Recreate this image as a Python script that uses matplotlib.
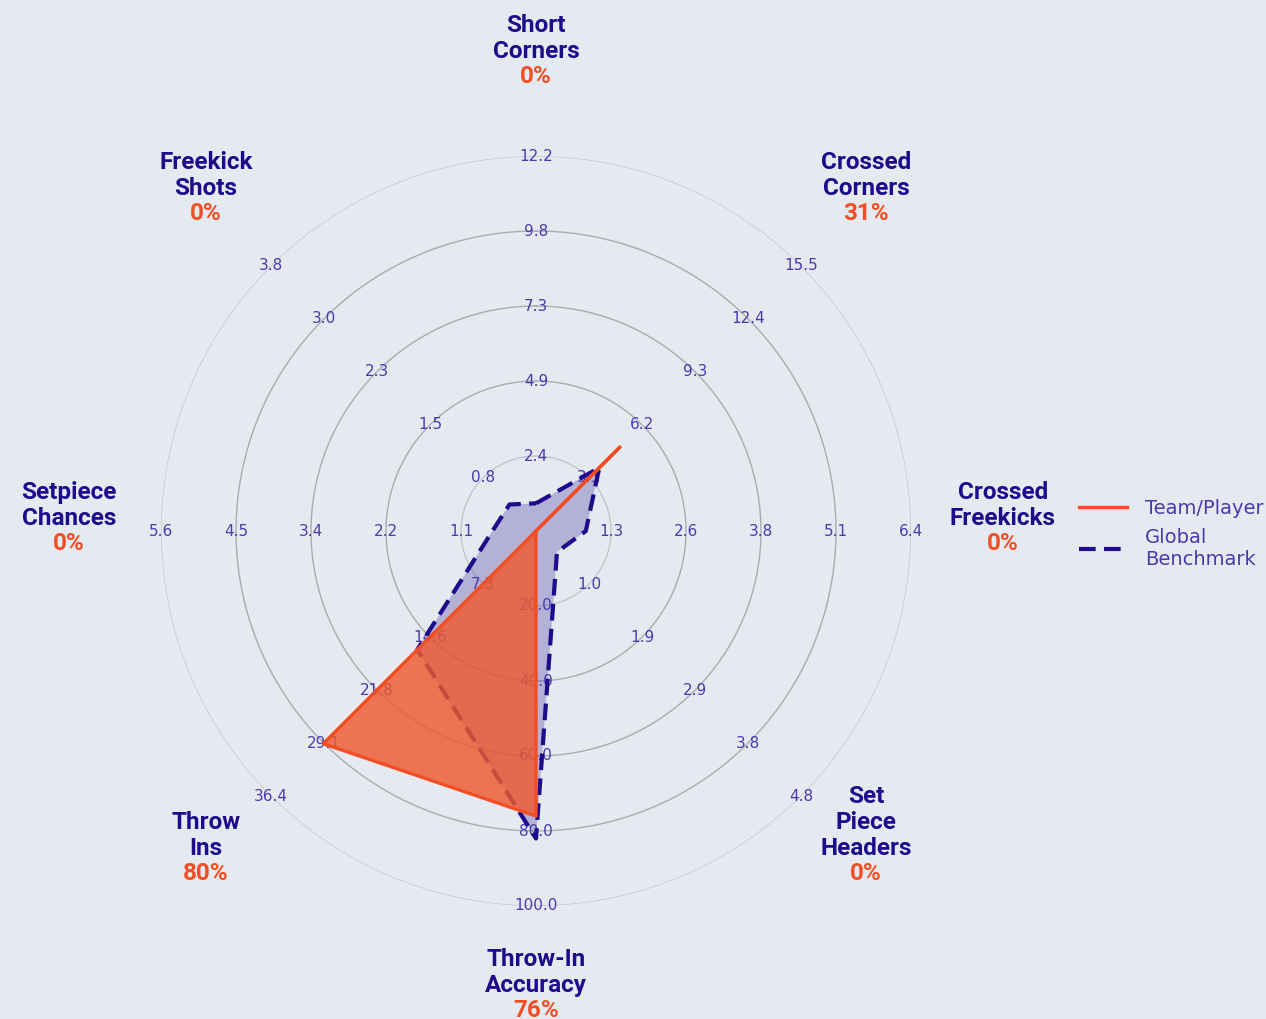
import numpy as np
import matplotlib
matplotlib.use("Agg")
import matplotlib.pyplot as plt

# categories, clockwise from the top
categories = ["Short\nCorners", "Crossed\nCorners", "Crossed\nFreekicks", "Set\nPiece\nHeaders",
              "Throw-In\nAccuracy", "Throw\nIns", "Setpiece\nChances", "Freekick\nShots"]
percentiles = ["0%", "31%", "0%", "0%", "76%", "80%", "0%", "0%"]
range_max = [12.2, 15.5, 6.4, 4.8, 100.0, 36.4, 5.6, 3.8]
team = [0.0, 4.9, 0.0, 0.0, 76.0, 29.2, 0.0, 0.0]
benchmark = [0.9, 3.7, 0.85, 0.38, 82.0, 16.3, 0.65, 0.38]

bg = '#e5e9f0'
navy = '#1f0a8c'
orange = '#f24e25'
tick_col = '#4a3aae'

n = len(categories)
theta = np.deg2rad(np.arange(n) * 45.0)
mx = np.array(range_max)
team_r = np.array(team) / mx
bench_r = np.array(benchmark) / mx

fig = plt.figure(figsize=(12.66, 10.19), dpi=100, facecolor=bg)
ax = fig.add_axes([161 / 1266, 113 / 1019, 750 / 1266, 750 / 1019], projection='polar')
ax.set_theta_offset(np.pi / 2)
ax.set_theta_direction(-1)
ax.set_ylim(0, 1)
ax.patch.set_visible(False)
ax.grid(False)
ax.spines['polar'].set_visible(False)
ax.set_xticks([])
ax.set_yticks([])

# rings
circ = np.linspace(0, 2 * np.pi, 400)
for k in range(1, 6):
    col = '#c4c6cc' if k in (1, 5) else '#a9abb0'
    ax.plot(circ, np.full_like(circ, k / 5), color=col, lw=1.0, zorder=1)

# ring labels per axis
for i in range(n):
    for k in range(1, 6):
        ax.text(theta[i], k / 5, f"{range_max[i] * k / 5:.1f}", ha='center', va='center',
                fontsize=11, color=tick_col, zorder=3)

# benchmark
tb = np.append(theta, theta[0])
ax.fill(tb, np.append(bench_r, bench_r[0]), color=navy, alpha=0.25, lw=0, zorder=2)
bline, = ax.plot(tb, np.append(bench_r, bench_r[0]), color=navy, lw=3.0, ls=(0, (4, 2)),
                 zorder=4, label='Global\nBenchmark')

# team
ax.fill(tb, np.append(team_r, team_r[0]), color='#ef5a30', alpha=0.82, lw=0, zorder=5)
tline, = ax.plot(tb, np.append(team_r, team_r[0]), color=orange, lw=2.4, zorder=6,
                 label='Team/Player')

# category labels
for i in range(n):
    ax.annotate(percentiles[i], xy=(theta[i], 1.245), xytext=(0, -9), textcoords='offset points',
                ha='center', va='center', fontsize=17.5, fontweight='bold', family='Roboto',
                color=orange, annotation_clip=False)
    ax.annotate(categories[i], xy=(theta[i], 1.245), xytext=(0, 4.5), textcoords='offset points',
                ha='center', va='baseline', fontsize=17.5, fontweight='bold', family='Roboto',
                color=navy, linespacing=1.15, annotation_clip=False)

leg = fig.legend(handles=[tline, bline], loc='center left', bbox_to_anchor=(0.846, 0.476),
                 frameon=False, fontsize=14, handlelength=2.5, handletextpad=0.9,
                 labelspacing=0.55, borderaxespad=0)
for t in leg.get_texts():
    t.set_color(tick_col)

fig.savefig('out.png', dpi=100, facecolor=bg)
